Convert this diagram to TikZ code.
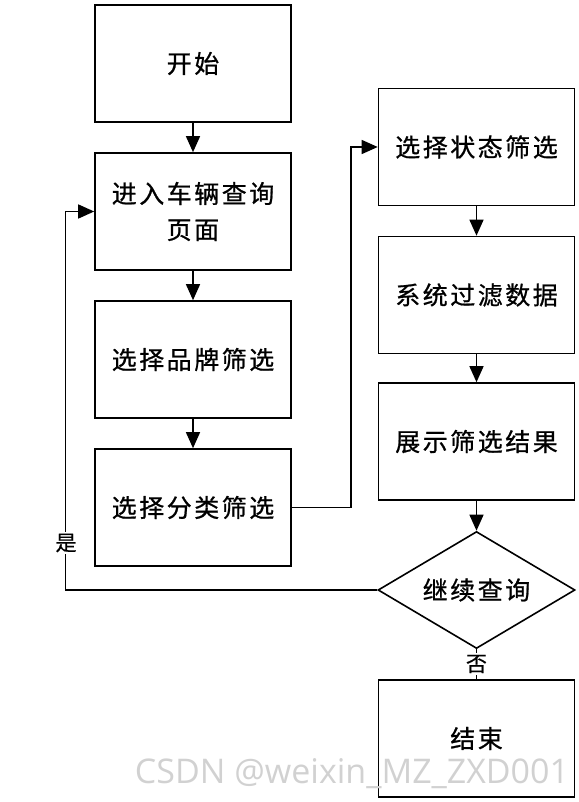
\documentclass[tikz,border=0pt]{standalone}
\usepackage{fontspec}
\newfontfamily\cjk[LetterSpace=10,FakeBold=0.8]{Noto Sans CJK SC}
\newfontfamily\cjklab[FakeBold=0.5]{Noto Sans CJK SC}
\newfontfamily\wmfont{Open Sans}
\usetikzlibrary{arrows.meta,shapes.geometric}
\tikzset{
  box/.style={draw,line width=1.6pt,minimum width=196pt,minimum height=117pt,inner sep=0pt,align=center,font=\cjk\fontsize{25pt}{36pt}\selectfont},
  dec/.style={draw,line width=1.6pt,shape=diamond,aspect=1.68,minimum width=197pt,minimum height=117pt,inner sep=0pt,font=\cjk\fontsize{25pt}{36pt}\selectfont},
  arr/.style={line width=1.4pt,-{Triangle[length=16pt,width=14pt]}},
  ln/.style={line width=1.4pt},
  lab/.style={fill=white,inner sep=2pt,font=\cjklab\fontsize{21pt}{22pt}\selectfont}
}
\begin{document}
\begin{tikzpicture}[x=1pt,y=-1pt]
\useasboundingbox (0,0) rectangle (578,802);
\node[box] (b1) at (193,63.5) {开始};
\node[box] (b2) at (193,211.5) {进入车辆查询\\页面};
\node[box] (b3) at (193,359.5) {选择品牌筛选};
\node[box] (b4) at (193,507.5) {选择分类筛选};
\node[box] (b5) at (476.5,147) {选择状态筛选};
\node[box] (b6) at (476.5,295) {系统过滤数据};
\node[box] (b7) at (476.5,441.5) {展示筛选结果};
\node[dec] (d1) at (476.5,590) {继续查询};
\node[box] (b8) at (476.5,738.5) {结束};
\draw[arr] (b1) -- (b2);
\draw[arr] (b2) -- (b3);
\draw[arr] (b3) -- (b4);
\draw[arr] (b5) -- (b6);
\draw[arr] (b6) -- (b7);
\draw[arr] (b7) -- (d1);
\draw[arr] (b4.east) -- ++(59,0) |- (b5.west);
\draw[arr] (d1.west) -- ++(-312,0) coordinate (lc) |- (b2.west);
\node[lab] (yes) at (66,543) {是};
\draw[ln] (d1.south) -- (b8.north);
\node[lab] (no) at (476.5,664) {否};
\node[text=black!18,font=\wmfont\fontsize{34pt}{36pt}\selectfont] (wm) at (352,774) {CSDN @weixin\_MZ\_ZXD001};
\end{tikzpicture}
\end{document}
